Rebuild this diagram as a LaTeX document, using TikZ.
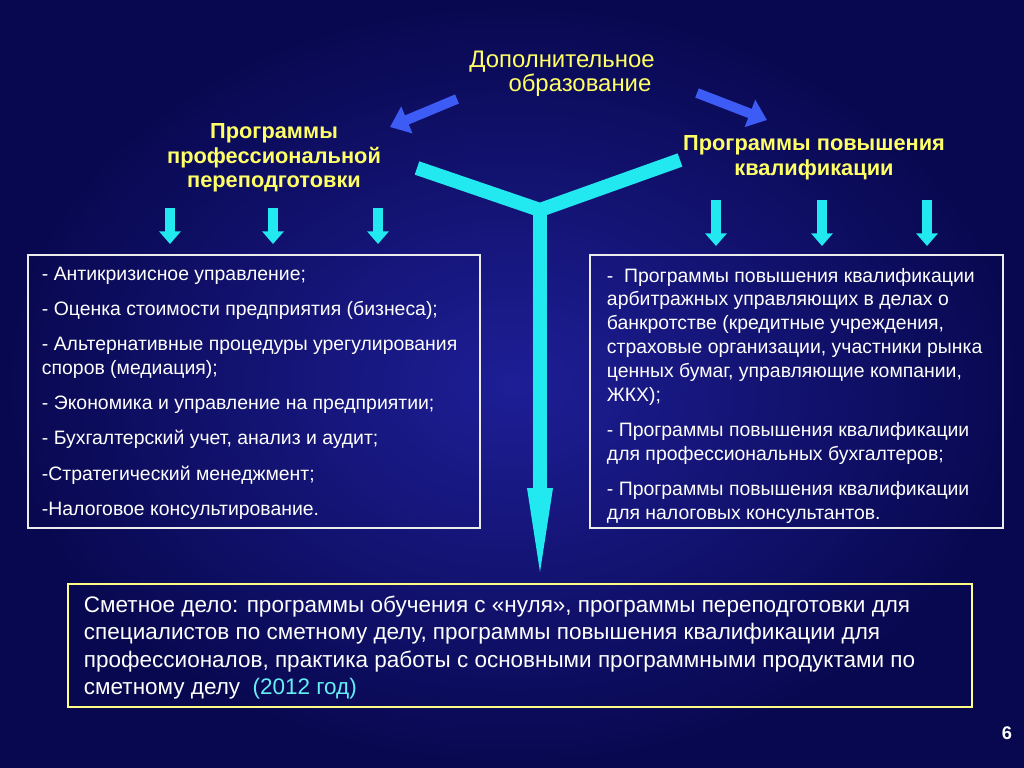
\documentclass[tikz,border=0pt]{standalone}
\usepackage{fontspec}
\setmainfont{Liberation Sans}
\usetikzlibrary{arrows.meta}
\definecolor{deepbg}{HTML}{080850}
\definecolor{midbg}{HTML}{1E1E96}
\definecolor{headyellow}{HTML}{FFFF66}
\definecolor{pipecyan}{HTML}{22E8F0}
\definecolor{bentblue}{HTML}{3D5CF5}
\tikzset{
  listbox/.style={draw=white!85!gray, line width=0.8pt, anchor=north west, inner sep=0pt},
  listtext/.style={text=white, anchor=north west, align=left, font=\fontsize{13.8}{17}\selectfont},
  headtext/.style={text=headyellow, align=center, font=\bfseries\fontsize{15.5}{17.5}\selectfont},
  dropdown/.style={pipecyan, line width=6.5pt, -{Triangle[width=15pt,length=9pt]}},
  bentarrow/.style={bentblue, line width=7pt, -{Triangle[width=20pt,length=13pt]}}
}
\begin{document}
\begin{tikzpicture}[x=0.025cm, y=-0.025cm]
  \shade[inner color=midbg, outer color=deepbg] (0,0) rectangle (1024,768);
  \useasboundingbox (0,0) rectangle (1024,768);

  % title and headings
  \node[text=headyellow, align=center, font=\fontsize{17}{17}\selectfont] (top) at (562,74)
    {Дополнительное\\\hspace*{1.5em}образование};
  \node[headtext] (lefthead) at (274,158) {Программы\\профессиональной\\переподготовки};
  \node[headtext] (righthead) at (814,158) {Программы повышения\\квалификации};

  \coordinate (la1) at (457,99); \coordinate (la2) at (390,127);
  \coordinate (ra1) at (697,93);  \coordinate (ra2) at (767,120);
  \draw[bentarrow] (la1) -- (la2);
  \draw[bentarrow] (ra1) -- (ra2);

  % the Y pipe
  \coordinate (yl) at (417,168); \coordinate (yr) at (680,160);
  \coordinate (yc) at (540,210); \coordinate (ys) at (540,495);
  \coordinate (yt) at (540,572);
  \draw[pipecyan, line width=10pt] (yl) -- (yc) -- (yr);
  \draw[pipecyan, line width=10pt] (yc) -- (ys);
  \fill[pipecyan] (527,488) -- (553,488) -- (yt) -- cycle;

  % small arrows
  \foreach \x in {170,273,378}
    \draw[dropdown] (\x,208) -- (\x,244);
  \foreach \x in {716,822,927}
    \draw[dropdown] (\x,200) -- (\x,246);

  % left box
  \draw[listbox] (28,255) rectangle (480,528);
  \node[listtext] (lefttext) at (37,262) {%
    - Антикризисное управление;\\[8pt]
    - Оценка стоимости предприятия (бизнеса);\\[8pt]
    - Альтернативные процедуры урегулирования\\споров (медиация);\\[8pt]
    - Экономика и управление на предприятии;\\[8pt]
    - Бухгалтерский учет, анализ и аудит;\\[8pt]
    -Стратегический менеджмент;\\[8pt]
    -Налоговое консультирование.};

  % right box
  \draw[listbox] (590,255) rectangle (1003,528);
  \node[listtext] (righttext) at (602,263) {%
    -\ \ Программы повышения квалификации\\
    арбитражных управляющих в делах о\\
    банкротстве (кредитные учреждения,\\
    страховые организации, участники рынка\\
    ценных бумаг, управляющие компании,\\
    ЖКХ);\\[8pt]
    - Программы повышения квалификации\\
    для профессиональных бухгалтеров;\\[8pt]
    - Программы повышения квалификации\\
    для налоговых консультантов.};

  % bottom box
  \draw[draw=headyellow!80!white, line width=0.8pt] (68,584) rectangle (972,707);
  \node[listtext, font=\fontsize{16}{19.5}\selectfont] (bottomtext) at (79,591) {%
    Сметное дело: программы обучения с «нуля», программы переподготовки для\\
    специалистов по сметному делу, программы повышения квалификации для\\
    профессионалов, практика работы с основными программными продуктами по\\
    сметному делу \ \textcolor{pipecyan!70!white}{(2012 год)}};

  \node[text=white, font=\bfseries\fontsize{13}{14}\selectfont] (pagenum) at (1007,733) {6};
\end{tikzpicture}
\end{document}
